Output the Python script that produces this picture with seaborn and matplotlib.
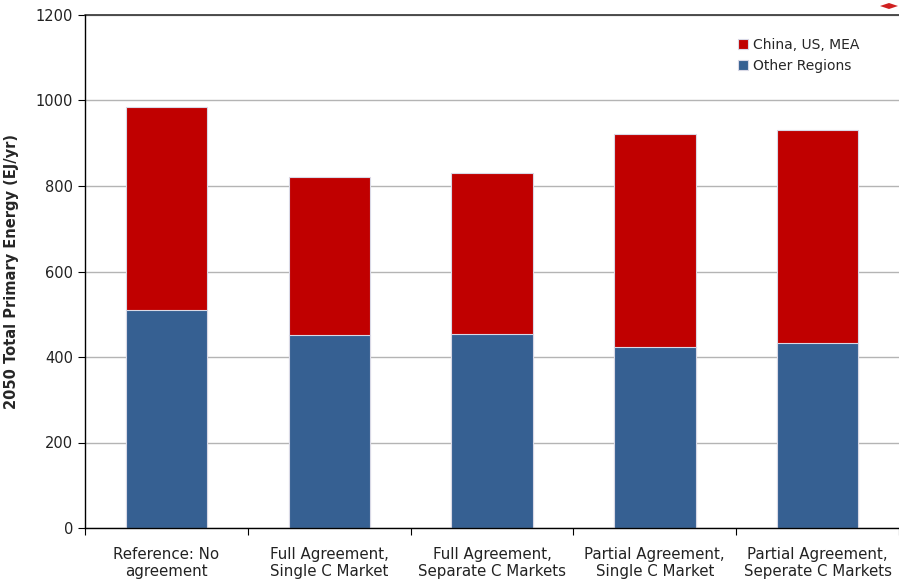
import matplotlib
matplotlib.use("Agg")
import matplotlib.pyplot as plt
from matplotlib.patches import Polygon
import seaborn as sns
import pandas as pd
import numpy as np

categories = ["Reference: No\nagreement", "Full Agreement,\nSingle C Market",
              "Full Agreement,\nSeparate C Markets", "Partial Agreement,\nSingle C Market",
              "Partial Agreement,\nSeperate C Markets"]
other_regions = [510, 451, 454, 423, 433]
china_us_mea = [475, 370, 376, 499, 498]
yticks = [0, 200, 400, 600, 800, 1000, 1200]

sns.set_theme(style="white")
plt.rcParams['font.family'] = ['DejaVu Sans']

totals = [a + b for a, b in zip(other_regions, china_us_mea)]
df = pd.DataFrame({"scenario": categories, "other": other_regions, "total": totals})

fig = plt.figure(figsize=(8.99, 5.82), dpi=100)
ax = fig.add_axes([85 / 899, 1 - 528 / 582, 814 / 899, 513 / 582])

blue = "#366092"
red = "#C00000"
sns.barplot(data=df, x="scenario", y="total", color=red, saturation=1, width=0.5,
            edgecolor="#D9D9E6", linewidth=0.8, ax=ax, label="China, US, MEA")
sns.barplot(data=df, x="scenario", y="other", color=blue, saturation=1, width=0.5,
            edgecolor="#D9D9E6", linewidth=0.8, ax=ax, label="Other Regions")

ax.set_ylim(0, 1200)
ax.set_xlim(-0.5, 4.5)
ax.set_yticks(yticks)
ax.set_yticklabels([str(t) for t in yticks], fontsize=10.5, color="#222222")
ax.yaxis.grid(True, color="#B4B4B4", linewidth=1)
ax.set_axisbelow(True)
ax.axhline(1200, color="#404040", linewidth=1.3, zorder=1, clip_on=False)

for s in ["top", "right"]:
    ax.spines[s].set_visible(False)
for s in ["left", "bottom"]:
    ax.spines[s].set_color("black")
    ax.spines[s].set_linewidth(1)

ax.set_xticks(np.arange(-0.5, 5.0, 1.0), minor=True)
ax.tick_params(axis="x", which="minor", length=5, color="black", width=0.8, bottom=True)
ax.tick_params(axis="x", which="major", length=0, pad=14)
ax.tick_params(axis="y", which="major", length=5, color="black", width=0.8, left=True)
ax.set_xticks(range(5))
ax.set_xticklabels(categories, fontsize=10.8, color="#222222", linespacing=1.1,
                   family=["Liberation Sans Narrow", "DejaVu Sans"])
ax.set_xlabel("")
ax.set_ylabel("2050 Total Primary Energy (EJ/yr)", fontsize=10.5, fontweight="bold",
              labelpad=12)

handles, labels = ax.get_legend_handles_labels()
ax.legend(handles, labels, loc="upper left", bbox_to_anchor=(0.787, 0.98), frameon=False,
          fontsize=10, handlelength=0.7, handleheight=0.7, handletextpad=0.35,
          labelspacing=0.5)

# small red diamond marker in the top-right corner
fig.add_artist(Polygon([[880 / 899, 1 - 6 / 582], [889 / 899, 1 - 3 / 582],
                        [898 / 899, 1 - 6 / 582], [889 / 899, 1 - 9 / 582]],
                       closed=True, transform=fig.transFigure, color="#D02020", lw=0))

fig.savefig("out.png", dpi=100)
